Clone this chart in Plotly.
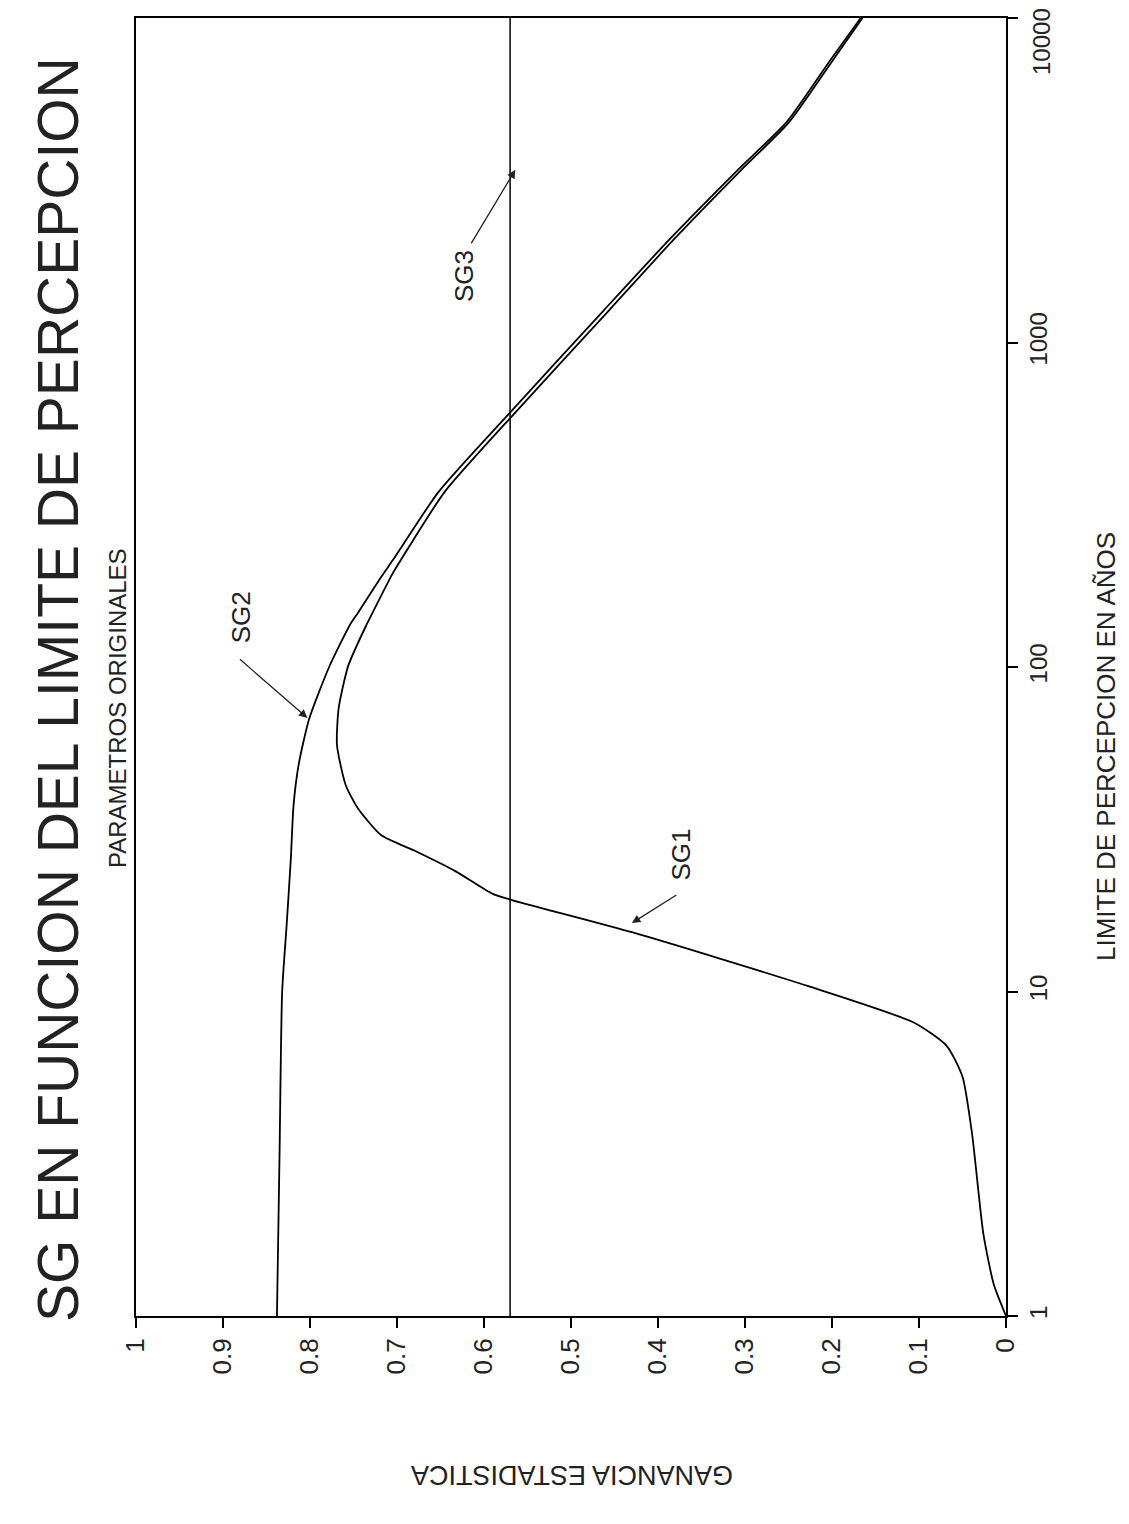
import plotly.graph_objects as go

# ---- data ----
T_SG1 = [1, 1.25, 1.79, 3.64, 5.46, 6.79, 8.0, 10.4, 15.2, 19.1, 20.0, 23.5, 27.1, 30.3,
         36.7, 43.3, 57.5, 74.8, 101, 135, 149, 192, 217, 347, 617, 1259, 2089, 3388,
         4786, 7413, 10000]
SG1 = [0.0, 0.014, 0.026, 0.039, 0.050, 0.068, 0.105, 0.228, 0.429, 0.567, 0.59, 0.633,
       0.679, 0.718, 0.745, 0.759, 0.769, 0.767, 0.756, 0.735, 0.727, 0.706, 0.694, 0.645,
       0.562, 0.456, 0.381, 0.305, 0.249, 0.199, 0.165]

T_SG2 = [1, 3.16, 10, 15.8, 25.7, 37.2, 50.1, 69.2, 100, 135, 148, 188, 217, 347, 617,
         1259, 2089, 3388, 4786, 7413, 10000]
SG2 = [0.838, 0.835, 0.832, 0.827, 0.822, 0.819, 0.813, 0.801, 0.778, 0.754, 0.744, 0.719,
       0.703, 0.652, 0.568, 0.462, 0.386, 0.309, 0.252, 0.202, 0.167]

T_SG3 = [1, 10000]
SG3 = [0.57, 0.57]

sg_ticks = [0, 0.1, 0.2, 0.3, 0.4, 0.5, 0.6, 0.7, 0.8, 0.9, 1]
sg_ticktext = ["0", "0.1", "0.2", "0.3", "0.4", "0.5", "0.6", "0.7", "0.8", "0.9", "1"]
t_ticks = [1, 10, 100, 1000, 10000]
t_ticktext = ["1", "10", "100", "1000", "10000"]

SANS = "Liberation Sans, Arial, sans-serif"
INK = "#222"

fig = go.Figure()
fig.add_trace(go.Scatter(x=SG1, y=T_SG1, mode="lines",
                         line=dict(color="black", width=1.8, shape="spline", smoothing=0.6), name="SG1"))
fig.add_trace(go.Scatter(x=SG2, y=T_SG2, mode="lines",
                         line=dict(color="black", width=1.8, shape="spline", smoothing=0.6), name="SG2"))
fig.add_trace(go.Scatter(x=SG3, y=T_SG3, mode="lines", line=dict(color="black", width=1.5), name="SG3"))

L, R, T, B = 136, 1006, 18, 1316
W, H = 1129, 1524

# the top tick label would overflow the page, it is written as an annotation instead
y_ticktext_axis = [t if v != t_ticks[-1] else "" for v, t in zip(t_ticks, t_ticktext)]

fig.update_layout(
    width=W, height=H,
    margin=dict(l=L, r=W - R, t=T, b=H - B, pad=0),
    paper_bgcolor="white", plot_bgcolor="white",
    showlegend=False,
    xaxis=dict(range=[1, 0], tickvals=sg_ticks, ticktext=sg_ticktext, ticks="outside",
               ticklen=10, tickwidth=1.5, tickcolor="black", tickangle=-90,
               tickfont=dict(family=SANS, size=26, color=INK),
               showline=True, mirror=True, linecolor="black", linewidth=2,
               showgrid=False, zeroline=False),
    yaxis=dict(type="log", range=[0, 4], tickvals=t_ticks, ticktext=y_ticktext_axis,
               side="right", ticks="outside", ticklen=10, tickwidth=1.5, tickcolor="black",
               tickangle=-90, tickfont=dict(family=SANS, size=24, color=INK),
               showline=True, mirror=True, linecolor="black", linewidth=2,
               showgrid=False, zeroline=False),
)

def px_x(px):
    return (px - L) / (R - L)

def px_y(py):
    return (B - py) / (B - T)

ann = []
ann.append(dict(text=t_ticktext[-1], xref="paper", yref="paper",
                x=px_x(1042), y=px_y(42), xanchor="center", yanchor="middle", textangle=-90,
                showarrow=False, font=dict(family=SANS, size=24, color=INK)))
# Title and texts (rotated like the page)
ann.append(dict(text="SG EN FUNCION DEL LIMITE DE PERCEPCION", xref="paper", yref="paper",
                x=px_x(58), y=px_y(690), xanchor="center", yanchor="middle", textangle=-90,
                showarrow=False, font=dict(family=SANS, size=57, color=INK)))
ann.append(dict(text="PARAMETROS ORIGINALES", xref="paper", yref="paper",
                x=px_x(117), y=px_y(708), xanchor="center", yanchor="middle", textangle=-90,
                showarrow=False, font=dict(family=SANS, size=24, color=INK)))
ann.append(dict(text="LIMITE DE PERCEPCION EN AÑOS", xref="paper", yref="paper",
                x=px_x(1106), y=px_y(747), xanchor="center", yanchor="middle", textangle=-90,
                showarrow=False, font=dict(family=SANS, size=26, color=INK)))
ann.append(dict(text="GANANCIA ESTADISTICA", xref="paper", yref="paper",
                x=px_x(572), y=px_y(1475), xanchor="center", yanchor="middle", textangle=180,
                showarrow=False, font=dict(family=SANS, size=27, color=INK)))

# curve labels
labels = [("SG1", 0.374, 1.421), ("SG2", 0.879, 2.154), ("SG3", 0.623, 3.205)]
for txt, xv, yv in labels:
    ann.append(dict(text=txt, x=xv, y=yv, xref="x", yref="y", textangle=-90,
                    showarrow=False, xanchor="center", yanchor="middle",
                    font=dict(family=SANS, size=26, color=INK)))

# arrows (tip in data coords, tail offset in pixels)
arrows = [(0.430, 1.211, 46, -29), (0.803, 1.843, -69, -60), (0.564, 3.532, -45, 75)]
for xv, yv, axp, ayp in arrows:
    ann.append(dict(text="", x=xv, y=yv, xref="x", yref="y", ax=axp, ay=ayp,
                    showarrow=True, arrowhead=2, arrowsize=1.3, arrowwidth=1.3,
                    arrowcolor=INK))

fig.update_layout(annotations=ann)
fig.write_html("out.html")
